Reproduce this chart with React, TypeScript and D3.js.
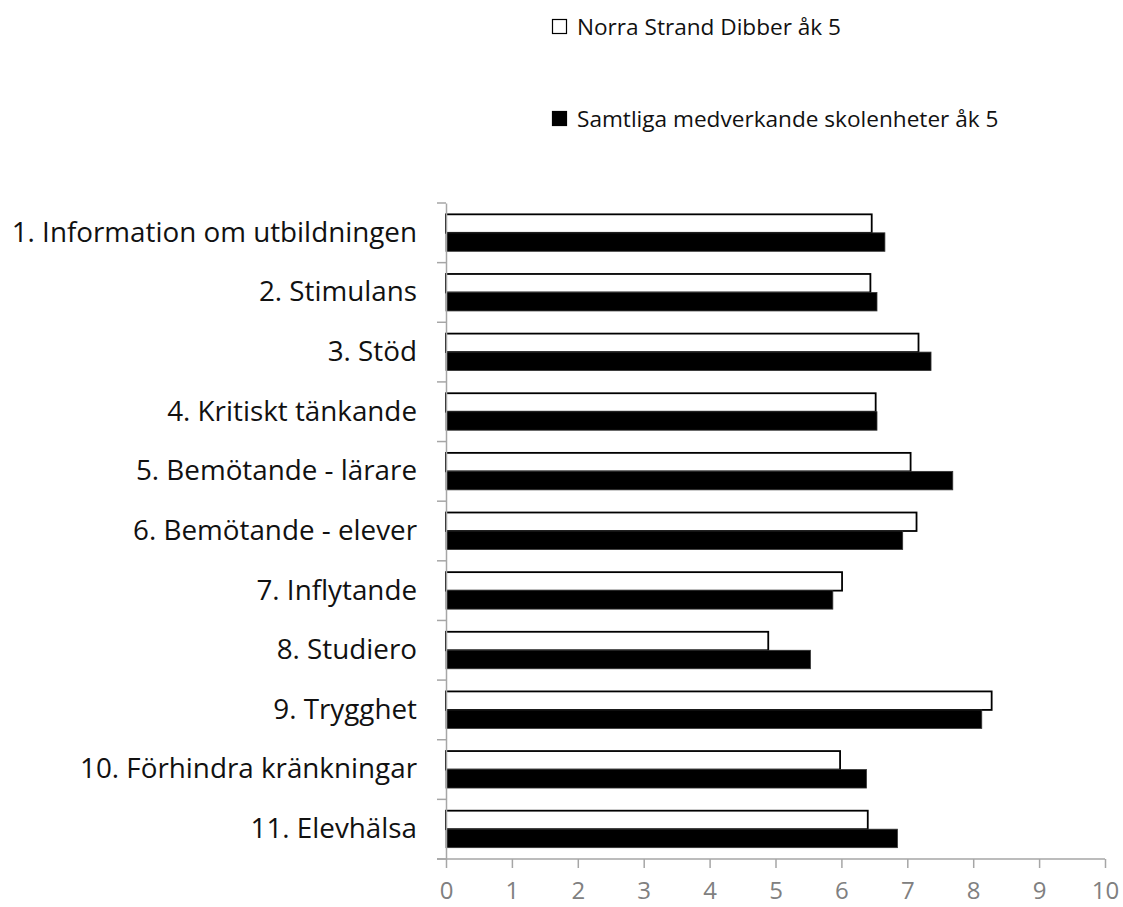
import React, { useEffect, useRef } from "react";
import * as d3 from "d3";

const categories = [
  "1. Information om utbildningen",
  "2. Stimulans",
  "3. Stöd",
  "4. Kritiskt tänkande",
  "5. Bemötande - lärare",
  "6. Bemötande - elever",
  "7. Inflytande",
  "8. Studiero",
  "9. Trygghet",
  "10. Förhindra kränkningar",
  "11. Elevhälsa",
];

const seriesNames = ["Norra Strand Dibber åk 5", "Samtliga medverkande skolenheter åk 5"];
const schoolValues = [6.46, 6.44, 7.17, 6.52, 7.05, 7.14, 6.01, 4.89, 8.28, 5.98, 6.4];
const allValues = [6.66, 6.54, 7.36, 6.54, 7.69, 6.93, 5.87, 5.53, 8.13, 6.38, 6.85];
const xTicks = [0, 1, 2, 3, 4, 5, 6, 7, 8, 9, 10];

const W = 1123;
const H = 907;
const FONT = "'Open Sans', Lato, sans-serif";

export default function App() {
  const ref = useRef<SVGSVGElement>(null);

  useEffect(() => {
    const svg = d3.select(ref.current);
    svg.selectAll("*").remove();

    const x = d3.scaleLinear().domain([0, 10]).range([446, 1105]);
    const y = d3
      .scaleBand<string>()
      .domain(categories)
      .range([203, 859])
      .paddingInner(0.38)
      .paddingOuter(0.19);
    const inner = d3.scaleBand<string>().domain(seriesNames).range([0, y.bandwidth()]);

    const rows = categories.map((c, i) => ({ c, vals: [schoolValues[i], allValues[i]] }));

    // bars
    const g = svg.append("g");
    rows.forEach((r) => {
      r.vals.forEach((v, si) => {
        g.append("rect")
          .attr("x", x(0))
          .attr("y", (y(r.c) as number) + (inner(seriesNames[si]) as number))
          .attr("width", x(v) - x(0))
          .attr("height", inner.bandwidth())
          .attr("fill", si === 0 ? "#fff" : "#000")
          .attr("stroke", si === 0 ? "#000" : "#333")
          .attr("stroke-width", si === 0 ? 1.8 : 0.8);
      });
    });

    // y axis
    const yAxis = d3.axisLeft(y).tickSize(0).tickPadding(29).tickSizeOuter(0);
    const ya = svg.append("g").attr("transform", `translate(${x(0)},0)`).call(yAxis);
    ya.select(".domain").attr("stroke", "#a6a6a6").attr("stroke-width", 1.5);
    ya.selectAll("text")
      .attr("font-family", FONT)
      .attr("font-size", 27.8)
      .attr("fill", "#111");
    // category boundary ticks
    const bounds = categories.map((c) => (y(c) as number) - y.step() * 0.19).concat([859]);
    svg
      .append("g")
      .selectAll("line")
      .data(bounds)
      .join("line")
      .attr("x1", x(0) - 9)
      .attr("x2", x(0))
      .attr("y1", (d) => d)
      .attr("y2", (d) => d)
      .attr("stroke", "#a6a6a6")
      .attr("stroke-width", 1.5);

    // x axis
    const xAxis = d3.axisBottom(x).tickValues(xTicks).tickSize(9).tickSizeOuter(0).tickPadding(14);
    const xa = svg.append("g").attr("transform", "translate(0,859)").call(xAxis);
    xa.select(".domain")
      .attr("stroke", "#a6a6a6")
      .attr("stroke-width", 1.5)
      .attr("d", `M${x(0) - 9},0H${x(10)}`);
    xa.selectAll(".tick line").attr("stroke", "#a6a6a6").attr("stroke-width", 1.5);
    xa.selectAll("text")
      .attr("font-family", FONT)
      .attr("font-size", 24)
      .attr("fill", "#808080");

    // legend
    const legend = svg.append("g");
    const ly = [27, 119];
    seriesNames.forEach((n, i) => {
      legend
        .append("rect")
        .attr("x", 552.5)
        .attr("y", ly[i] - 7.5)
        .attr("width", 14)
        .attr("height", 14)
        .attr("fill", i === 0 ? "#fff" : "#000")
        .attr("stroke", "#000")
        .attr("stroke-width", 1.2);
      legend
        .append("text")
        .attr("x", 577)
        .attr("y", ly[i])
        .attr("dy", "0.35em")
        .attr("font-family", FONT)
        .attr("font-size", 22.6)
        .attr("fill", "#111")
        .text(n);
    });
  }, []);

  return (
    <svg
      ref={ref}
      width={W}
      height={H}
      style={{ position: "absolute", left: 0, top: 0, background: "#fff" }}
    />
  );
}
